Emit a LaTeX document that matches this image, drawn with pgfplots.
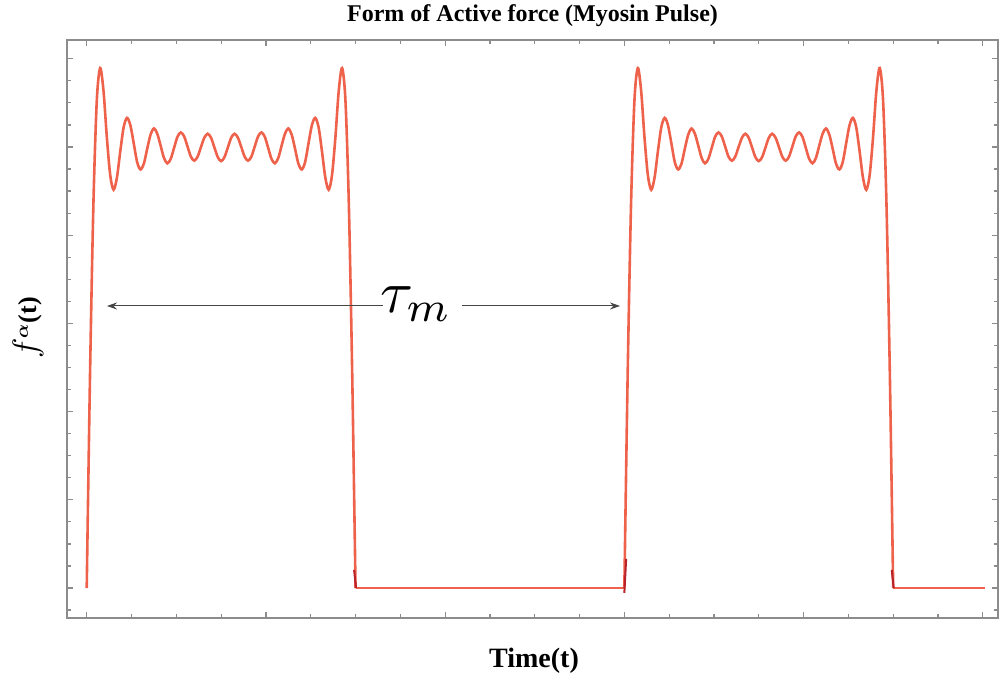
\documentclass[border=0pt]{standalone}
\usepackage{fontspec}
\setmainfont{Liberation Serif}
\usepackage{bm}
\usepackage{pgfplots}
\pgfplotsset{compat=1.18}
\usetikzlibrary{arrows.meta}
\definecolor{curve}{RGB}{238,98,76}
\definecolor{darkc}{RGB}{185,35,40}
\definecolor{framec}{RGB}{140,140,140}
\definecolor{arrowc}{RGB}{70,70,70}
\begin{document}
\begin{tikzpicture}
\useasboundingbox (0,0) rectangle (500pt,341pt);
\begin{axis}[at={(33.5pt,32pt)}, anchor=south west, scale only axis,
  width=465.5pt, height=289pt,
  xmin=-0.110, xmax=5.085, ymin=-0.068, ymax=1.2426,
  xtick={0,1,2,3,4,5}, minor xtick={0.25,0.5,0.75,1.25,1.5,1.75,2.25,2.5,2.75,3.25,3.5,3.75,4.25,4.5,4.75},
  ytick={0,0.2,0.4,0.6,0.8,1.0,1.2},
  minor ytick={-0.05,0.05,0.1,0.15,0.25,0.3,0.35,0.45,0.5,0.55,0.65,0.7,0.75,0.85,0.9,0.95,1.05,1.1,1.15},
  xticklabels={}, yticklabels={},
  tick align=inside, major tick length=3.2pt, minor tick length=2.2pt,
  axis line style={framec, line width=0.8pt},
  every tick/.style={framec, line width=0.6pt},
  clip=false]
\addplot[curve, line width=1.3pt, smooth] coordinates {
(0,0) (0.01875,0.490) (0.0375,0.873) (0.05625,1.105) (0.075,1.179) (0.09375,1.127) (0.1125,1.021) (0.13125,0.936) (0.15,0.903) (0.16875,0.931) (0.1875,0.991) (0.20625,1.045) (0.225,1.066)
(0.24375,1.049) (0.2625,1.008) (0.28125,0.966) (0.3,0.949) (0.31875,0.962) (0.3375,0.996) (0.35625,1.028) (0.375,1.042) (0.39375,1.030) (0.4125,1.003) (0.43125,0.975) (0.45,0.963) (0.46875,0.973) (0.4875,0.998) (0.50625,1.023) (0.525,1.033) (0.54375,1.024) (0.5625,1.001) (0.58125,0.978) (0.6,0.969) (0.61875,0.978) (0.6375,1.000) (0.65625,1.021) (0.675,1.030) (0.69375,1.021) (0.7125,0.999) (0.73125,0.977) (0.75,0.968)
(0.76875,0.977) (0.7875,0.999) (0.80625,1.021) (0.825,1.030) (0.84375,1.021) (0.8625,1.000) (0.88125,0.978) (0.9,0.969) (0.91875,0.978) (0.9375,1.001) (0.95625,1.024) (0.975,1.033) (0.99375,1.023) (1.0125,0.998) (1.03125,0.973) (1.05,0.963) (1.06875,0.975) (1.0875,1.003) (1.10625,1.030) (1.125,1.042) (1.14375,1.028) (1.1625,0.996) (1.18125,0.962) (1.2,0.949) (1.21875,0.966) (1.2375,1.008) (1.25625,1.049) (1.275,1.066)
(1.29375,1.045) (1.3125,0.991) (1.33125,0.931) (1.35,0.903) (1.36875,0.936) (1.3875,1.021) (1.40625,1.127) (1.425,1.179) (1.44375,1.105) (1.4625,0.873) (1.48125,0.490) (1.5,0)
};
\addplot[curve, line width=1.3pt, smooth] coordinates {
(3,0) (3.01875,0.490) (3.0375,0.873) (3.05625,1.105) (3.075,1.179) (3.09375,1.127) (3.1125,1.021) (3.13125,0.936) (3.15,0.903) (3.16875,0.931) (3.1875,0.991) (3.20625,1.045) (3.225,1.066)
(3.24375,1.049) (3.2625,1.008) (3.28125,0.966) (3.3,0.949) (3.31875,0.962) (3.3375,0.996) (3.35625,1.028) (3.375,1.042) (3.39375,1.030) (3.4125,1.003) (3.43125,0.975) (3.45,0.963) (3.46875,0.973) (3.4875,0.998) (3.50625,1.023) (3.525,1.033) (3.54375,1.024) (3.5625,1.001) (3.58125,0.978) (3.6,0.969) (3.61875,0.978) (3.6375,1.000) (3.65625,1.021) (3.675,1.030) (3.69375,1.021) (3.7125,0.999) (3.73125,0.977) (3.75,0.968)
(3.76875,0.977) (3.7875,0.999) (3.80625,1.021) (3.825,1.030) (3.84375,1.021) (3.8625,1.000) (3.88125,0.978) (3.9,0.969) (3.91875,0.978) (3.9375,1.001) (3.95625,1.024) (3.975,1.033) (3.99375,1.023) (4.0125,0.998) (4.03125,0.973) (4.05,0.963) (4.06875,0.975) (4.0875,1.003) (4.10625,1.030) (4.125,1.042) (4.14375,1.028) (4.1625,0.996) (4.18125,0.962) (4.2,0.949) (4.21875,0.966) (4.2375,1.008) (4.25625,1.049) (4.275,1.066)
(4.29375,1.045) (4.3125,0.991) (4.33125,0.931) (4.35,0.903) (4.36875,0.936) (4.3875,1.021) (4.40625,1.127) (4.425,1.179) (4.44375,1.105) (4.4625,0.873) (4.48125,0.490) (4.5,0)
};
\addplot[curve, line width=1.3pt] coordinates {(1.5,0) (3,0)};
\addplot[curve, line width=1.3pt] coordinates {(4.5,0) (5.01,0)};
\addplot[darkc, line width=1.0pt] coordinates {(1.492,0.041) (1.503,0)};
\addplot[darkc, line width=1.0pt] coordinates {(3.0,-0.011) (3.01,0.066)};
\addplot[darkc, line width=1.0pt] coordinates {(4.492,0.041) (4.503,0)};
\draw[arrowc, line width=0.5pt, -{Stealth[length=5pt,width=3.5pt]}] (axis cs:1.653,0.6395) -- (axis cs:0.113,0.6395);
\draw[arrowc, line width=0.5pt, -{Stealth[length=5pt,width=3.5pt]}] (axis cs:2.094,0.6395) -- (axis cs:2.976,0.6395);
\node[anchor=base, scale=3, inner sep=0pt] at (axis cs:1.838,0.6236) {$\tau_m$};
\end{axis}
\node[anchor=base, font=\bfseries\fontsize{12}{14}\selectfont] at (266.25pt,330.5pt) {Form of Active force (Myosin Pulse)};
\node[anchor=base, font=\bfseries\fontsize{14}{16}\selectfont] at (267pt,7.5pt) {Time(t)};
\node[rotate=90, font=\bfseries\fontsize{13}{16}\selectfont] at (14pt,177pt) {{\fontsize{17}{18}\selectfont$f$}$^{\bm{\alpha}}$(t)};
\end{tikzpicture}
\end{document}
